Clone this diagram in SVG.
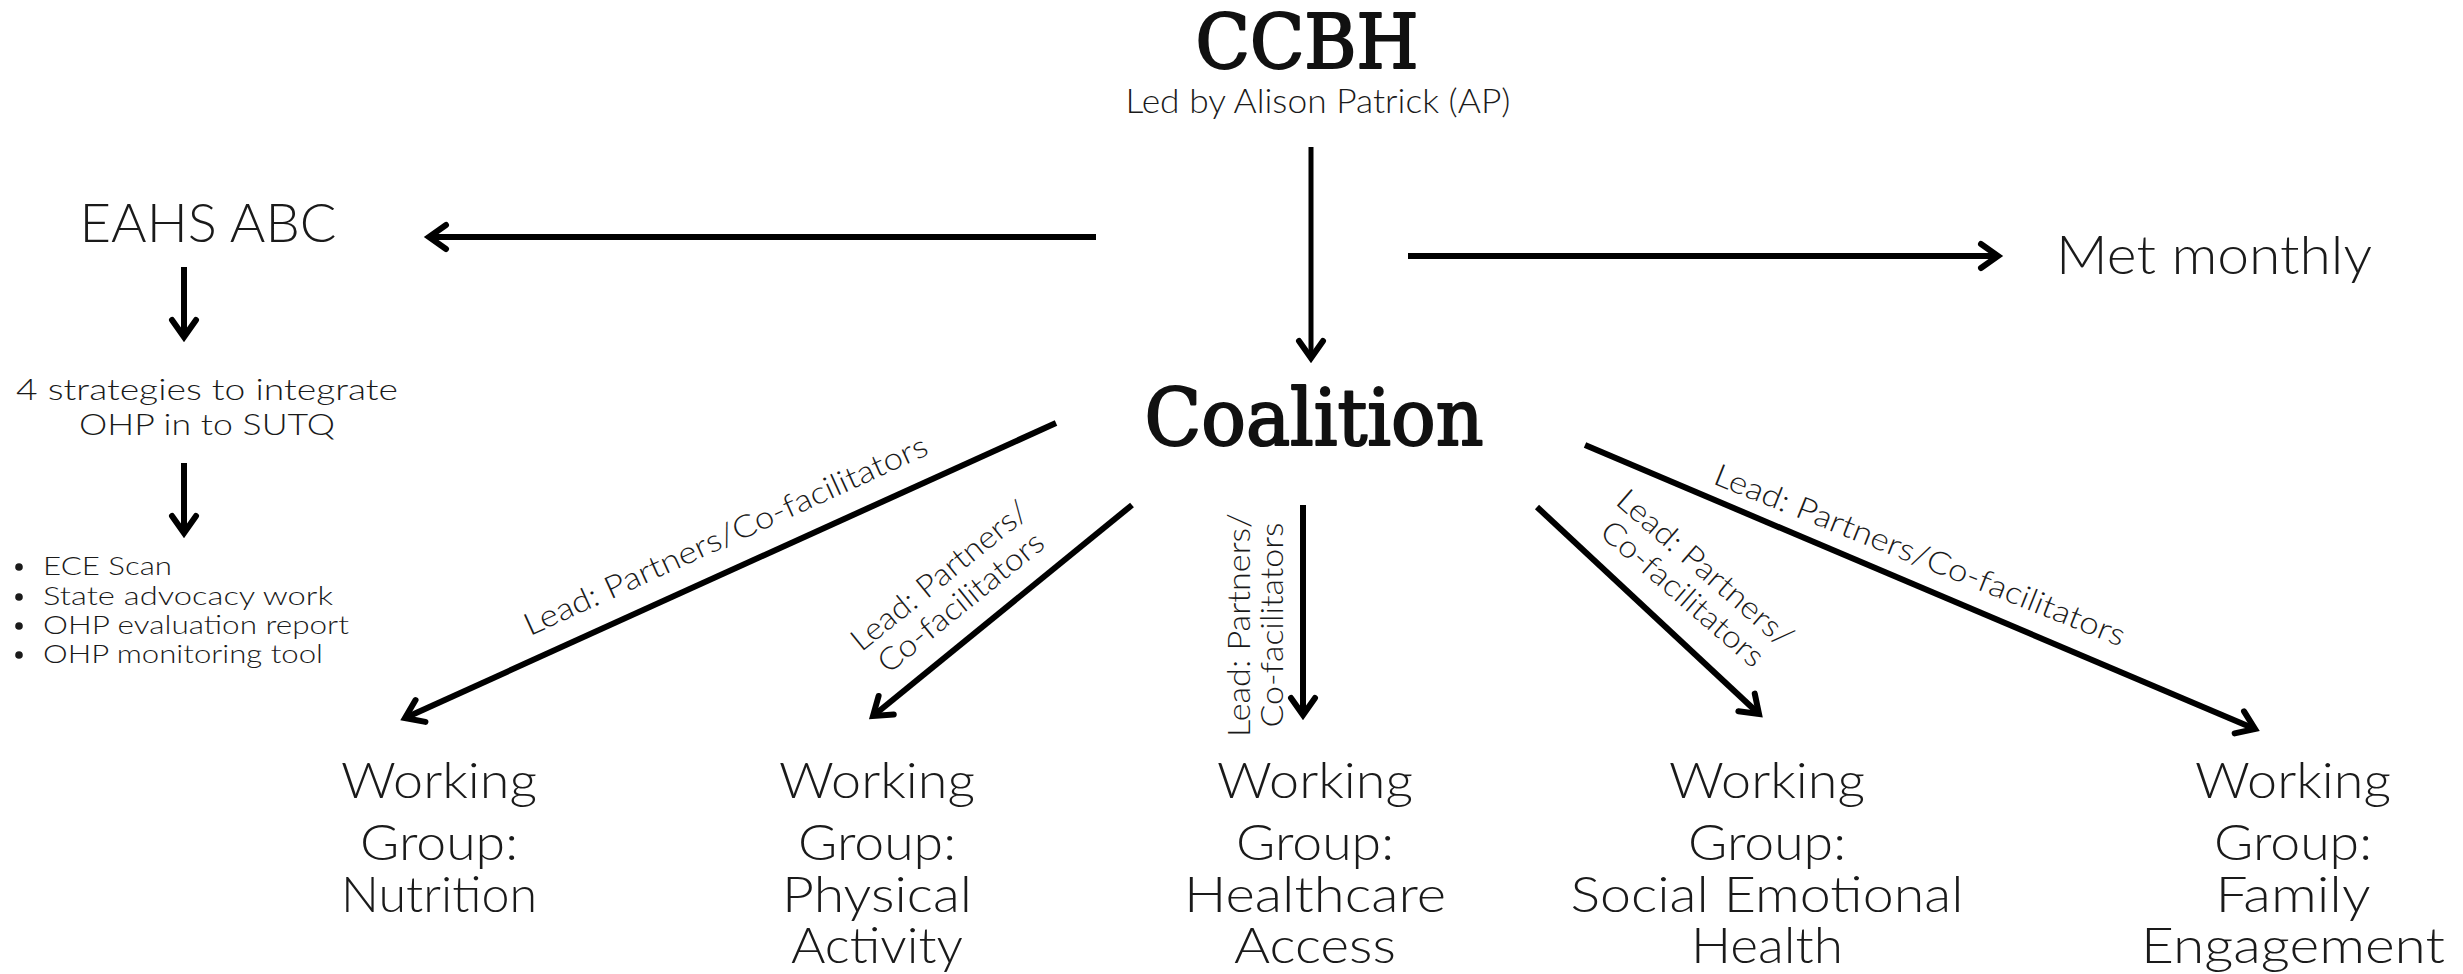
<svg xmlns="http://www.w3.org/2000/svg" width="2463" height="974" viewBox="0 0 2463 974">
<defs>
<style>
.bg{fill:#fff}
.slab{font-family:"DejaVu Serif","Liberation Serif",serif;font-weight:normal;fill:#111;stroke:#111;stroke-width:2.2;stroke-linejoin:round;text-anchor:middle}
.t{font-family:Lato,"Open Sans","Liberation Sans",sans-serif;font-weight:300;fill:#1a1a1a}
.m{text-anchor:middle}
.wg{font-size:50px}
.lbl{font-size:31px}
.edge{fill:none;stroke:#000;stroke-width:6;marker-end:url(#arr)}
.thin{stroke-width:5}
</style>
<marker id="arr" markerUnits="userSpaceOnUse" viewBox="-26 -18 36 36" refX="0" refY="0" markerWidth="36" markerHeight="36" orient="auto" overflow="visible">
<path d="M-17,-12 L0,0 L-17,12" fill="none" stroke="#000" stroke-width="6" stroke-linejoin="miter" stroke-linecap="round"/>
</marker>
</defs>
<rect class="bg" x="0" y="0" width="2463" height="974"/>

<g id="connectors">
<line class="edge thin" x1="1311" y1="147" x2="1311" y2="358"/>
<line class="edge" x1="1096" y1="237" x2="429" y2="237"/>
<line class="edge" x1="1408" y1="256" x2="1998" y2="256"/>
<line class="edge" x1="184" y1="267" x2="184" y2="337"/>
<line class="edge" x1="184" y1="463" x2="184" y2="533"/>
<line class="edge" x1="1056" y1="423" x2="405" y2="718"/>
<line class="edge" x1="1132" y1="505" x2="873" y2="716"/>
<line class="edge" x1="1303" y1="505" x2="1303" y2="715"/>
<line class="edge" x1="1537" y1="507" x2="1759" y2="714"/>
<line class="edge" x1="1585" y1="445" x2="2255" y2="729"/>
<g id="edge-labels">
<text class="t lbl m" transform="translate(730,545) rotate(-24.5)" textLength="440" lengthAdjust="spacingAndGlyphs">Lead: Partners/Co-facilitators</text>
<text class="t lbl m" transform="translate(946,584) rotate(-39)"><tspan x="0" y="0" textLength="218" lengthAdjust="spacingAndGlyphs">Lead: Partners/</tspan><tspan x="0" y="34" textLength="204" lengthAdjust="spacingAndGlyphs">Co-facilitators</tspan></text>
<text class="t lbl m" transform="translate(1250,625) rotate(-90)"><tspan x="0" y="0" textLength="224" lengthAdjust="spacingAndGlyphs">Lead: Partners/</tspan><tspan x="0" y="33" textLength="205" lengthAdjust="spacingAndGlyphs">Co-facilitators</tspan></text>
<text class="t lbl m" transform="translate(1698,576) rotate(41)"><tspan x="0" y="0" textLength="222" lengthAdjust="spacingAndGlyphs">Lead: Partners/</tspan><tspan x="0" y="34" textLength="205" lengthAdjust="spacingAndGlyphs">Co-facilitators</tspan></text>
<text class="t lbl m" transform="translate(1916,565) rotate(21.8)" textLength="440" lengthAdjust="spacingAndGlyphs">Lead: Partners/Co-facilitators</text>
</g>
</g>

<g id="ccbh">
<text class="slab" x="1307" y="68" font-size="74" textLength="223" lengthAdjust="spacingAndGlyphs">CCBH</text>
<text class="t m" x="1318" y="113" font-size="34" textLength="385" lengthAdjust="spacingAndGlyphs">Led by Alison Patrick (AP)</text>
</g>

<g id="coalition">
<text class="slab" x="1314" y="445" font-size="78" textLength="339" lengthAdjust="spacingAndGlyphs">Coalition</text>
</g>

<g id="eahs">
<text class="t m" x="208" y="242" font-size="54" textLength="257" lengthAdjust="spacingAndGlyphs">EAHS ABC</text>
</g>

<g id="met-monthly">
<text class="t m" x="2214" y="274" font-size="53" textLength="316" lengthAdjust="spacingAndGlyphs">Met monthly</text>
</g>

<g id="strategies">
<text class="t m" font-size="29"><tspan x="207" y="400" textLength="382" lengthAdjust="spacingAndGlyphs">4 strategies to integrate</tspan><tspan x="207" y="435" textLength="256" lengthAdjust="spacingAndGlyphs">OHP in to SUTQ</tspan></text>
</g>

<g id="strategy-list">
<circle cx="19" cy="567" r="3.8" fill="#1a1a1a"/>
<circle cx="19" cy="597" r="3.8" fill="#1a1a1a"/>
<circle cx="19" cy="626" r="3.8" fill="#1a1a1a"/>
<circle cx="19" cy="655" r="3.8" fill="#1a1a1a"/>
<text class="t" font-size="25"><tspan x="43" y="575" textLength="129" lengthAdjust="spacingAndGlyphs">ECE Scan</tspan><tspan x="43" y="605" textLength="290" lengthAdjust="spacingAndGlyphs">State advocacy work</tspan><tspan x="43" y="634" textLength="306" lengthAdjust="spacingAndGlyphs">OHP evaluation report</tspan><tspan x="43" y="663" textLength="280" lengthAdjust="spacingAndGlyphs">OHP monitoring tool</tspan></text>
</g>

<g id="wg-nutrition">
<text class="t wg m"><tspan x="439" y="798" textLength="196" lengthAdjust="spacingAndGlyphs">Working</tspan><tspan x="439" y="860" textLength="158" lengthAdjust="spacingAndGlyphs">Group:</tspan><tspan x="439" y="912" textLength="196" lengthAdjust="spacingAndGlyphs">Nutrition</tspan></text>
</g>

<g id="wg-physical">
<text class="t wg m"><tspan x="877" y="798" textLength="196" lengthAdjust="spacingAndGlyphs">Working</tspan><tspan x="877" y="860" textLength="158" lengthAdjust="spacingAndGlyphs">Group:</tspan><tspan x="877" y="912" textLength="190" lengthAdjust="spacingAndGlyphs">Physical</tspan><tspan x="877" y="963" textLength="172" lengthAdjust="spacingAndGlyphs">Activity</tspan></text>
</g>

<g id="wg-healthcare">
<text class="t wg m"><tspan x="1315" y="798" textLength="196" lengthAdjust="spacingAndGlyphs">Working</tspan><tspan x="1315" y="860" textLength="158" lengthAdjust="spacingAndGlyphs">Group:</tspan><tspan x="1315" y="912" textLength="262" lengthAdjust="spacingAndGlyphs">Healthcare</tspan><tspan x="1315" y="963" textLength="162" lengthAdjust="spacingAndGlyphs">Access</tspan></text>
</g>

<g id="wg-social-emotional">
<text class="t wg m"><tspan x="1767" y="798" textLength="196" lengthAdjust="spacingAndGlyphs">Working</tspan><tspan x="1767" y="860" textLength="158" lengthAdjust="spacingAndGlyphs">Group:</tspan><tspan x="1767" y="912" textLength="393" lengthAdjust="spacingAndGlyphs">Social Emotional</tspan><tspan x="1767" y="963" textLength="152" lengthAdjust="spacingAndGlyphs">Health</tspan></text>
</g>

<g id="wg-family">
<text class="t wg m"><tspan x="2293" y="798" textLength="196" lengthAdjust="spacingAndGlyphs">Working</tspan><tspan x="2293" y="860" textLength="158" lengthAdjust="spacingAndGlyphs">Group:</tspan><tspan x="2293" y="912" textLength="155" lengthAdjust="spacingAndGlyphs">Family</tspan><tspan x="2293" y="963" textLength="304" lengthAdjust="spacingAndGlyphs">Engagement</tspan></text>
</g>
</svg>
